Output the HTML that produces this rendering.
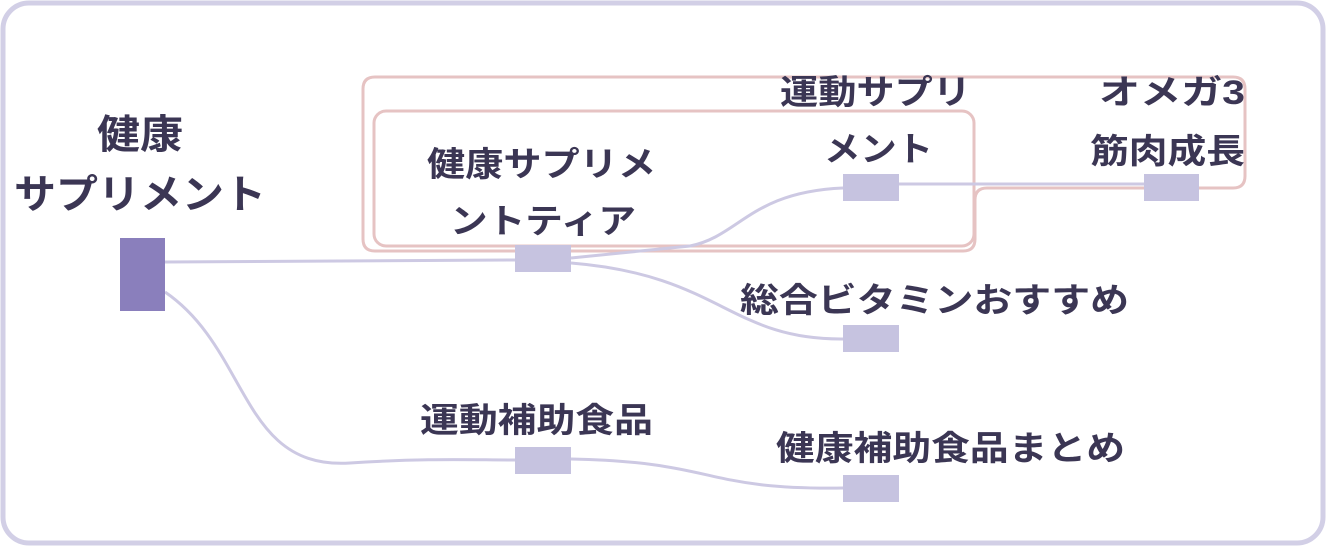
<!DOCTYPE html>
<html><head><meta charset="utf-8"><style>
html,body{margin:0;padding:0;background:#fff;}
svg{display:block;}
text{font-family:"Liberation Sans","Noto Sans CJK JP",sans-serif;font-weight:bold;fill:#3b3654;}
</style></head><body>
<svg width="1326" height="546" viewBox="0 0 1326 546">
<rect x="3" y="3" width="1320" height="540" rx="26" fill="#fff" stroke="#d2cfe6" stroke-width="5"/>
<g fill="none" stroke="#e6c3c3" stroke-width="3">
<path d="M375,77 H1233 Q1245,77 1245,89 V176 Q1245,188 1233,188 H987 Q975,188 975,200 V239 Q975,251 963,251 H375 Q363,251 363,239 V89 Q363,77 375,77 Z"/>
<rect x="374" y="111" width="600" height="135" rx="12"/>
</g>
<g fill="none" stroke="#cdc9e3" stroke-width="3">
<path d="M165,262 L515,260"/>
<path d="M165,292 C250,350 240,470 350,463 C430,458 470,460 515,460"/>
<path d="M571,258 L690,246 C740,236 750,192 843,188"/>
<path d="M571,263 C720,275 730,340 843,339"/>
<path d="M899,184 L1144,184"/>
<path d="M571,459 C720,462 700,490 843,488"/>
</g>
<rect x="120" y="238" width="45" height="73" fill="#8a7fbc"/>
<g fill="#c6c3e0">
<rect x="515" y="245" width="56" height="27"/>
<rect x="843" y="174" width="56" height="27"/>
<rect x="1144" y="174" width="55" height="27"/>
<rect x="843" y="325" width="56" height="27"/>
<rect x="515" y="447" width="56" height="27"/>
<rect x="843" y="475" width="56" height="27"/>
</g>
<g font-size="40">
<text x="97" y="148" textLength="86" lengthAdjust="spacingAndGlyphs">健康</text>
<text x="14" y="208" textLength="252" lengthAdjust="spacingAndGlyphs">サプリメント</text>
</g>
<g font-size="34">
<text x="427" y="176" textLength="229" lengthAdjust="spacingAndGlyphs">健康サプリメ</text>
<text x="450" y="233" textLength="186" lengthAdjust="spacingAndGlyphs">ントティア</text>
<text x="780" y="104" textLength="191" lengthAdjust="spacingAndGlyphs">運動サプリ</text>
<text x="824" y="161" textLength="109" lengthAdjust="spacingAndGlyphs">メント</text>
<text x="1099" y="104" textLength="146" lengthAdjust="spacingAndGlyphs">オメガ3</text>
<text x="1090" y="163" textLength="155" lengthAdjust="spacingAndGlyphs">筋肉成長</text>
<text x="740" y="312" textLength="389" lengthAdjust="spacingAndGlyphs">総合ビタミンおすすめ</text>
<text x="420" y="432" textLength="233" lengthAdjust="spacingAndGlyphs">運動補助食品</text>
<text x="776" y="460" textLength="349" lengthAdjust="spacingAndGlyphs">健康補助食品まとめ</text>
</g>
</svg>
</body></html>
